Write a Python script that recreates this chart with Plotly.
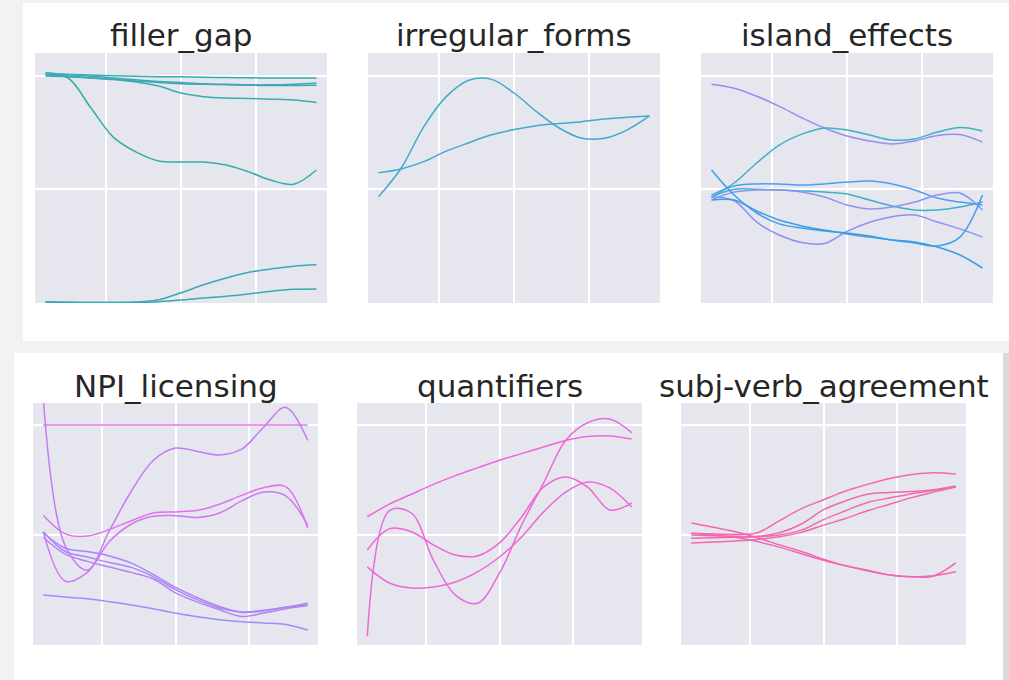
import plotly.graph_objects as go

W, H = 1009, 680

# shared layer positions (x) for every curve
layers = [1, 2.5, 4, 5.5, 7, 8.5, 10, 11.5, 13, 14.5, 16, 17.5, 19]

titles = ["filler_gap", "irregular_forms", "island_effects",
          "NPI_licensing", "quantifiers", "subj-verb_agreement"]

filler_gap = [
    [1.012, 0.99, 0.86, 0.73, 0.665, 0.625, 0.62, 0.62, 0.607, 0.577, 0.54, 0.523, 0.585],
    [1.003, 0.999, 0.99, 0.983, 0.972, 0.955, 0.924, 0.908, 0.902, 0.90, 0.897, 0.893, 0.882],
    [1.007, 1.005, 1.003, 1.0, 0.998, 0.996, 0.995, 0.993, 0.992, 0.991, 0.99, 0.99, 0.99],
    [1.012, 1.005, 0.998, 0.99, 0.982, 0.975, 0.97, 0.965, 0.962, 0.96, 0.96, 0.963, 0.968],
    [0.999, 0.996, 0.99, 0.984, 0.977, 0.97, 0.965, 0.962, 0.96, 0.958, 0.957, 0.957, 0.958],
    [0.004, 0.003, 0.002, 0.002, 0.004, 0.014, 0.045, 0.08, 0.11, 0.135, 0.15, 0.162, 0.168],
    [0.004, 0.003, 0.002, 0.002, 0.003, 0.006, 0.013, 0.022, 0.03, 0.04, 0.052, 0.06, 0.062],
]
filler_gap_colors = ["#37aba9", "#3aaab3", "#38acae", "#3ca9b6", "#3aa9b1", "#3da7b8", "#3aa9b4"]

irregular_forms = [
    [0.468, 0.593, 0.775, 0.908, 0.98, 0.984, 0.924, 0.842, 0.77, 0.725, 0.725, 0.761, 0.823],
    [0.573, 0.59, 0.622, 0.668, 0.705, 0.74, 0.763, 0.78, 0.79, 0.798, 0.81, 0.817, 0.823],
]
irregular_forms_colors = ["#3eadc8", "#44a9cc"]

island_effects = [
    [0.962, 0.945, 0.91, 0.865, 0.815, 0.77, 0.735, 0.713, 0.70, 0.713, 0.737, 0.741, 0.708],
    [0.466, 0.528, 0.616, 0.695, 0.743, 0.77, 0.761, 0.739, 0.717, 0.722, 0.752, 0.772, 0.757],
    [0.475, 0.515, 0.524, 0.524, 0.519, 0.524, 0.532, 0.537, 0.524, 0.497, 0.462, 0.444, 0.431],
    [0.466, 0.50, 0.50, 0.497, 0.493, 0.488, 0.48, 0.453, 0.427, 0.409, 0.409, 0.422, 0.444],
    [0.453, 0.488, 0.497, 0.497, 0.488, 0.466, 0.431, 0.414, 0.422, 0.444, 0.475, 0.484, 0.409],
    [0.466, 0.45, 0.356, 0.299, 0.266, 0.262, 0.315, 0.355, 0.38, 0.387, 0.356, 0.326, 0.29],
    [0.585, 0.475, 0.396, 0.348, 0.33, 0.317, 0.308, 0.295, 0.277, 0.264, 0.251, 0.29, 0.475],
    [0.453, 0.453, 0.405, 0.365, 0.339, 0.321, 0.304, 0.29, 0.277, 0.268, 0.246, 0.211, 0.154],
]
island_effects_colors = ["#9a8df2", "#3db2c4", "#4b9fee", "#3fb0c9",
                         "#8e92f3", "#8f8ef5", "#3e9fe8", "#3b9de6"]

npi_licensing = [
    [1.0, 1.0, 1.0, 1.0, 1.0, 1.0, 1.0, 1.0, 1.0, 1.0, 1.0, 1.0, 1.0],
    [1.12, 0.45, 0.34, 0.52, 0.70, 0.84, 0.895, 0.88, 0.864, 0.89, 0.99, 1.08, 0.93],
    [0.59, 0.505, 0.495, 0.525, 0.565, 0.6, 0.605, 0.612, 0.64, 0.68, 0.715, 0.72, 0.532],
    [0.514, 0.29, 0.33, 0.47, 0.55, 0.585, 0.588, 0.58, 0.6, 0.655, 0.695, 0.678, 0.545],
    [0.51, 0.44, 0.425, 0.405, 0.372, 0.32, 0.262, 0.215, 0.175, 0.148, 0.155, 0.172, 0.182],
    [0.49, 0.413, 0.38, 0.355, 0.33, 0.3, 0.237, 0.195, 0.16, 0.13, 0.145, 0.165, 0.18],
    [0.515, 0.425, 0.4, 0.375, 0.353, 0.31, 0.252, 0.205, 0.168, 0.15, 0.158, 0.172, 0.19],
    [0.227, 0.218, 0.21, 0.197, 0.182, 0.165, 0.145, 0.128, 0.115, 0.106, 0.1, 0.093, 0.068],
]
npi_licensing_colors = ["#e472f0", "#c47cf2", "#e370ef", "#d276f1",
                        "#b083f4", "#b880f3", "#a888f5", "#9d8df6"]

quantifiers = [
    [0.583, 0.64, 0.685, 0.73, 0.77, 0.805, 0.84, 0.87, 0.9, 0.93, 0.948, 0.95, 0.936],
    [0.04, 0.61, 0.6, 0.386, 0.227, 0.19, 0.327, 0.545, 0.736, 0.93, 1.01, 1.027, 0.965],
    [0.432, 0.528, 0.515, 0.455, 0.409, 0.405, 0.464, 0.582, 0.718, 0.764, 0.718, 0.614, 0.645],
    [0.355, 0.282, 0.259, 0.264, 0.286, 0.332, 0.4, 0.491, 0.605, 0.695, 0.741, 0.714, 0.627],
]
quantifiers_colors = ["#f266dc", "#ee68d9", "#f064d4", "#f067d8"]

subj_verb_agreement = [
    [0.508, 0.505, 0.502, 0.51, 0.565, 0.62, 0.66, 0.7, 0.73, 0.757, 0.775, 0.783, 0.777],
    [0.5, 0.497, 0.494, 0.494, 0.51, 0.55, 0.615, 0.655, 0.685, 0.693, 0.698, 0.706, 0.723],
    [0.485, 0.488, 0.49, 0.492, 0.5, 0.522, 0.57, 0.61, 0.648, 0.668, 0.688, 0.703, 0.718],
    [0.464, 0.468, 0.473, 0.48, 0.492, 0.512, 0.545, 0.575, 0.61, 0.64, 0.67, 0.695, 0.718],
    [0.555, 0.535, 0.515, 0.488, 0.455, 0.425, 0.39, 0.36, 0.34, 0.318, 0.31, 0.314, 0.373],
    [0.508, 0.5, 0.49, 0.47, 0.445, 0.415, 0.385, 0.36, 0.337, 0.318, 0.31, 0.315, 0.333],
]
subj_verb_agreement_colors = ["#f36aa6", "#f068ae", "#f16ab0", "#ee6ca8", "#f463b0", "#f266b4"]

panels = [
    (filler_gap, filler_gap_colors),
    (irregular_forms, irregular_forms_colors),
    (island_effects, island_effects_colors),
    (npi_licensing, npi_licensing_colors),
    (quantifiers, quantifiers_colors),
    (subj_verb_agreement, subj_verb_agreement_colors),
]

# subplot boxes in pixels: (left, right, top, bottom)
boxes = [
    (35, 327, 53, 303), (368, 660, 53, 303), (701, 993, 53, 303),
    (33, 318, 403, 645), (357, 642, 403, 645), (681, 966, 403, 645),
]
title_y = [35, 35, 35, 386, 386, 386]
PANEL_BG = "#e6e6ef"

fig = go.Figure()
shapes = [
    # white cards behind each row of panels
    dict(type="rect", xref="paper", yref="paper", layer="below",
         x0=23 / W, x1=1, y0=1 - 341 / H, y1=1 - 3 / H,
         fillcolor="white", line=dict(width=0)),
    dict(type="rect", xref="paper", yref="paper", layer="below",
         x0=14 / W, x1=1003 / W, y0=0, y1=1 - 353 / H,
         fillcolor="white", line=dict(width=0)),
    dict(type="rect", xref="paper", yref="paper", layer="below",
         x0=1003 / W, x1=1, y0=0, y1=1 - 353 / H,
         fillcolor="#dadade", line=dict(width=0)),
]
layout = dict(
    width=W, height=H,
    margin=dict(l=0, r=0, t=0, b=0),
    paper_bgcolor="#f2f2f2",
    plot_bgcolor=PANEL_BG,
    showlegend=False,
    annotations=[],
)

for i, ((series, colors), (l, r, t, b)) in enumerate(zip(panels, boxes)):
    n = i + 1
    xa = "x" if n == 1 else f"x{n}"
    ya = "y" if n == 1 else f"y{n}"
    for ys, c in zip(series, colors):
        fig.add_trace(go.Scatter(
            x=layers, y=ys, mode="lines", xaxis=xa, yaxis=ya,
            line=dict(color=c, width=1.5, shape="spline", smoothing=1.0),
            hoverinfo="skip",
        ))
    # panel background drawn above the card
    shapes.append(dict(type="rect", xref="paper", yref="paper", layer="below",
                       x0=l / W, x1=r / W, y0=1 - b / H, y1=1 - t / H,
                       fillcolor=PANEL_BG, line=dict(width=0)))
    layout[f"xaxis{'' if n == 1 else n}"] = dict(
        domain=[l / W, r / W], range=[0.3, 19.7], anchor=ya,
        tickvals=[5, 10, 15], showticklabels=False, ticks="",
        showgrid=True, gridcolor="white", gridwidth=2,
        zeroline=False, showline=False, fixedrange=True,
    )
    layout[f"yaxis{'' if n == 1 else n}"] = dict(
        domain=[1 - b / H, 1 - t / H], range=[0, 1.1], anchor=xa,
        tickvals=[0.5, 1.0], showticklabels=False, ticks="",
        showgrid=True, gridcolor="white", gridwidth=2,
        zeroline=False, showline=False, fixedrange=True,
    )
    layout["annotations"].append(dict(
        text=titles[i], xref="paper", yref="paper",
        x=(l + r) / 2 / W, y=1 - title_y[i] / H,
        xanchor="center", yanchor="middle", showarrow=False,
        font=dict(family="DejaVu Sans", size=31, color="#262626"),
    ))

layout["shapes"] = shapes
fig.update_layout(**layout)
fig.write_html("out.html")
